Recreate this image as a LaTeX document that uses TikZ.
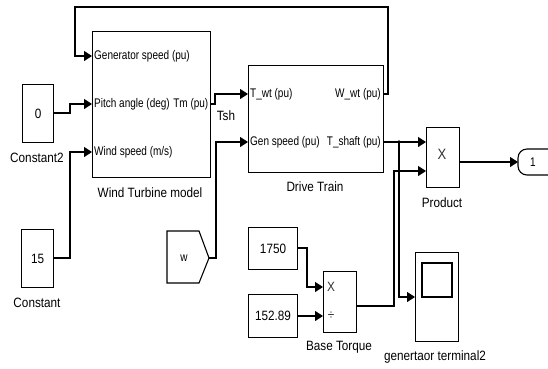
\documentclass[tikz,border=0pt]{standalone}
\usepackage{fontspec}
\newfontfamily\nf[FakeStretch=0.87]{Liberation Sans}
\newfontfamily\pf[FakeStretch=0.8]{Liberation Sans}
\usetikzlibrary{arrows.meta}
\begin{document}
\begin{tikzpicture}[x=1pt,y=-1pt,
  blk/.style={draw, line width=1.1pt, inner sep=0pt, anchor=north west},
  ln/.style={line width=1.1pt},
  arr/.style={line width=1.1pt, -{Triangle[length=8pt,width=10pt]}},
  pl/.style={font=\pf\fontsize{12.5}{13}\selectfont, inner sep=0pt},
  bl/.style={font=\nf\fontsize{13.5}{14}\selectfont, inner sep=0pt},
]
\useasboundingbox (0,0) rectangle (548,368);
\fill[white] (0,0) rectangle (548,368);

% Wind turbine block
\node[blk, minimum width=118pt, minimum height=146pt] (wt) at (92,31) {};
\node[pl, anchor=west] (gs) at (94,56) {Generator speed (pu)};
\node[pl, anchor=west] (pa) at (94,104) {Pitch angle (deg)};
\node[pl, anchor=east] (tm) at (208.5,104) {Tm (pu)};
\node[pl, anchor=west] (ws) at (94,152) {Wind speed (m/s)};
\node[bl] (wtl) at (150,193) {Wind Turbine model};

% Drive train block
\node[blk, minimum width=135pt, minimum height=107pt] (dt) at (248,65) {};
\node[pl, anchor=west] (twt) at (250,94) {T\_wt (pu)};
\node[pl, anchor=east] (wwt) at (381,94) {W\_wt (pu)};
\node[pl, anchor=west] (gsp) at (250,142) {Gen speed (pu)};
\node[pl, anchor=east] (tsf) at (381,142) {T\_shaft (pu)};
\node[bl] (dtl) at (315,187) {Drive Train};

% Constants
\node[blk, minimum width=31pt, minimum height=58pt] (c2) at (22,84) {};
\node[bl] at (c2.center) {0};
\node[bl] (c2l) at (37,158) {Constant2};
\node[blk, minimum width=32pt, minimum height=58pt] (c1) at (21,229) {};
\node[bl] at (c1.center) {15};
\node[bl] (c1l) at (37,303) {Constant};

\node[blk, minimum width=49pt, minimum height=42pt] (k1) at (248,227) {};
\node[bl] at (k1.center) {1750};
\node[blk, minimum width=49pt, minimum height=43pt] (k2) at (248,294) {};
\node[bl] at (k2.center) {152.89};

% From block w
\draw[ln] (167,231) -- (199,231) -- (209,258) -- (199,283) -- (167,283) -- cycle;
\node[pl] (wl) at (184,258) {w};
\coordinate (wtip) at (209,258);

% Base torque
\node[blk, minimum width=33pt, minimum height=61pt] (bt) at (323,271) {};
\node[bl, text=black!80] (btx) at (331,287) {X};
\node[bl, text=black!80] (btd) at (331,316) {÷};
\node[bl] (btl) at (339,347) {Base Torque};

% Product
\node[blk, minimum width=33pt, minimum height=60pt] (pr) at (426,127) {};
\node[bl, font=\nf\fontsize{15}{16}\selectfont, text=black!80] at (442,154) {X};
\node[bl] (prl) at (442,203) {Product};

% Outport
\draw[ln, rounded corners=9pt] (518,149) rectangle (560,175);
\node[pl] (op) at (533,162) {1};
\coordinate (opin) at (518,162);

% Scope
\node[blk, minimum width=43pt, minimum height=89pt] (sc) at (415,252) {};
\draw[ln] (422,263) rectangle (452,297);
\node[bl] (scl) at (435,357) {genertaor terminal2};

% Connectors
\draw[arr] (c2.east |- 0,113) -- (70,113) -- (70,104) -- (wt.west |- pa);
\draw[arr] (c1.east |- 0,258) -- (70,258) -- (70,152) -- (wt.west |- ws);
\draw[arr] (dt.east |- wwt) -- (388,94) -- (388,7) -- (75,7) -- (75,56) -- (wt.west |- gs);
\draw[arr] (wt.east |- tm) -- (215,104) -- (215,94) -- (dt.west |- twt);
\node[bl] (tsh) at (226,116) {Tsh};
\draw[arr] (wtip) -- (216,258) -- (216,142) -- (dt.west |- gsp);
\draw[arr] (dt.east |- tsf) -- (pr.west |- 0,142);
\fill (399,142) circle (1.8pt);
\draw[arr] (399,142) -- (399,297) -- (sc.west |- 0,297);
\draw[arr] (bt.east |- 0,306) -- (394,306) -- (394,171) -- (pr.west |- 0,171);
\draw[arr] (k1.east |- 0,248) -- (307,248) -- (307,287) -- (bt.west |- btx);
\draw[arr] (k2.east |- 0,316) -- (bt.west |- btd);
\draw[arr] (pr.east |- 0,162) -- (opin);
\end{tikzpicture}
\end{document}
